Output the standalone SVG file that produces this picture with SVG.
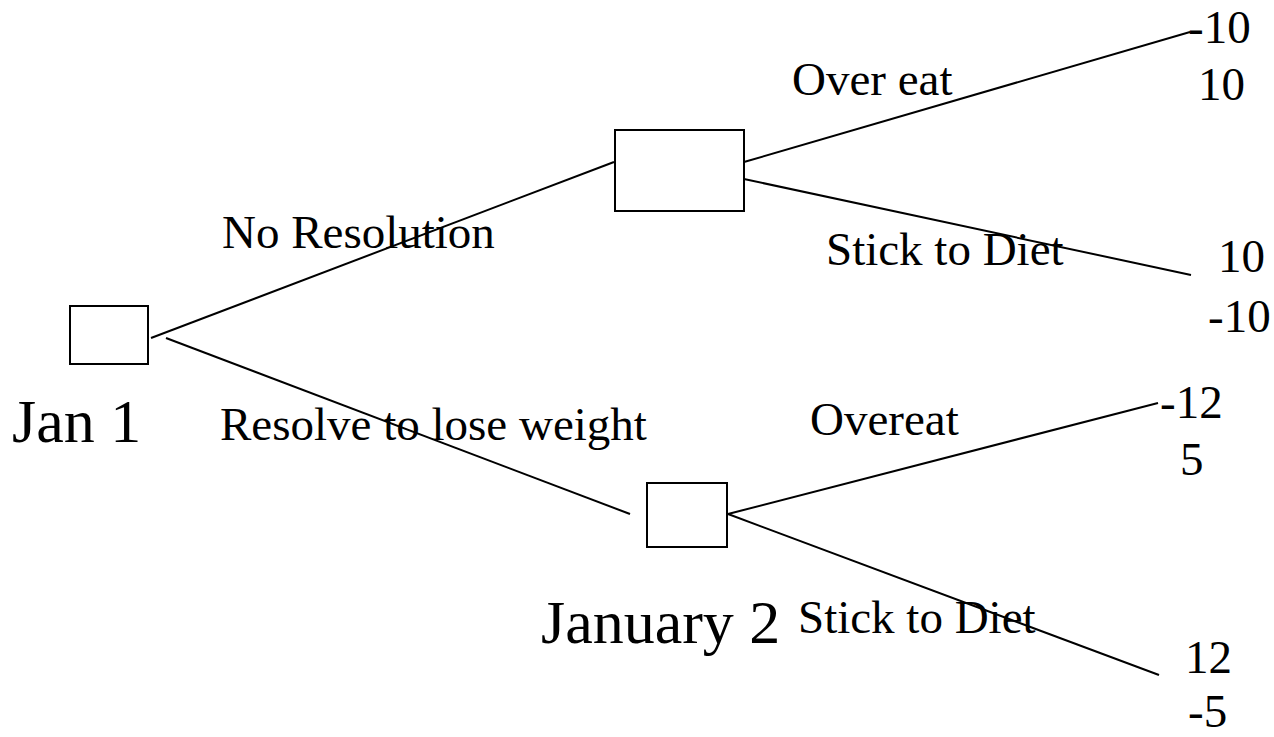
<svg xmlns="http://www.w3.org/2000/svg" width="1274" height="737" viewBox="0 0 1274 737">
  <style>
    .node { fill: #fff; stroke: #000; stroke-width: 2; }
    .edge { stroke: #000; stroke-width: 2; fill: none; }
    text { font-family: "Liberation Serif", "Times New Roman", serif; fill: #000; }
    .lbl { font-size: 47px; }
    .big { font-size: 62px; }
  </style>
  <rect width="1274" height="737" fill="#fff"/>

  <!-- branches -->
  <g id="connectors">
    <line class="edge" x1="151" y1="338" x2="614" y2="162"/>
    <line class="edge" x1="166" y1="338" x2="630" y2="514"/>
    <line class="edge" x1="744" y1="162" x2="1190" y2="32"/>
    <line class="edge" x1="744" y1="179" x2="1191" y2="275"/>
    <line class="edge" x1="728" y1="514" x2="1158" y2="403"/>
    <line class="edge" x1="728" y1="514" x2="1159" y2="675"/>
  </g>

  <!-- decision points -->
  <g id="jan1">
    <rect class="node" x="70" y="306" width="78" height="58"/>
    <text class="big" x="12" y="442">Jan 1</text>
  </g>
  <g id="no-resolution-node">
    <rect class="node" x="615" y="130" width="129" height="81"/>
  </g>
  <g id="january2">
    <rect class="node" x="647" y="483" width="80" height="64"/>
    <text class="big" x="541" y="643">January 2</text>
  </g>

  <!-- branch labels -->
  <g id="branch-labels" class="lbl">
    <text x="222" y="248">No Resolution</text>
    <text x="220" y="440">Resolve to lose weight</text>
    <text x="792" y="95">Over eat</text>
    <text x="826" y="265">Stick to Diet</text>
    <text x="810" y="435">Overeat</text>
    <text x="798" y="633">Stick to Diet</text>
  </g>

  <!-- payoffs -->
  <g id="payoffs" class="lbl">
    <text x="1188" y="43">-10</text>
    <text x="1198" y="100">10</text>
    <text x="1218" y="272">10</text>
    <text x="1208" y="332">-10</text>
    <text x="1160" y="418">-12</text>
    <text x="1180" y="475">5</text>
    <text x="1185" y="673">12</text>
    <text x="1188" y="727">-5</text>
  </g>
</svg>
